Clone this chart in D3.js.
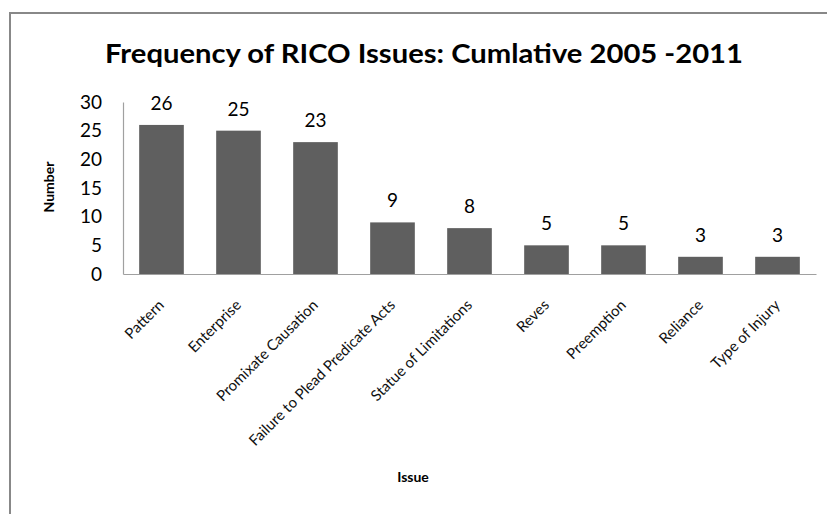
<!DOCTYPE html>
<html>
<head>
<meta charset="utf-8">
<script src="https://cdn.jsdelivr.net/npm/d3@7"></script>
<style>
  html, body { margin: 0; padding: 0; background: #ffffff; }
  svg { display: block; font-family: Lato, "Open Sans", sans-serif; }
</style>
</head>
<body>
<script>
// Issue categories and their cumulative counts, 2005–2011
const categories = [
  "Pattern",
  "Enterprise",
  "Promixate Causation",
  "Failure to Plead Predicate Acts",
  "Statue of Limitations",
  "Reves",
  "Preemption",
  "Reliance",
  "Type of Injury"
];
const counts = [26, 25, 23, 9, 8, 5, 5, 3, 3];
const yTicks = [0, 5, 10, 15, 20, 25, 30];

const W = 827, H = 514;
const plot = { left: 123, right: 816, top: 102, bottom: 274 };

const svg = d3.select("body").append("svg")
  .attr("width", W)
  .attr("height", H);

// chart frame (left and top edges)
svg.append("path")
  .attr("d", `M10,${H} L10,13 L${W},13`)
  .attr("fill", "none")
  .attr("stroke", "#888888")
  .attr("stroke-width", 2);

const x = d3.scaleBand()
  .domain(categories)
  .range([plot.left, plot.right])
  .paddingInner(0.42)
  .paddingOuter(0.21);

const y = d3.scaleLinear()
  .domain([0, 30])
  .range([plot.bottom, plot.top]);

// title
svg.append("text")
  .attr("x", 424)
  .attr("y", 63)
  .attr("text-anchor", "middle")
  .attr("font-size", 26)
  .attr("font-weight", "bold")
  .attr("fill", "#000")
  .attr("textLength", 638)
  .attr("lengthAdjust", "spacingAndGlyphs")
  .text("Frequency of RICO Issues: Cumlative 2005 -2011");

// y axis
const yAxis = svg.append("g")
  .attr("transform", `translate(${plot.left},0)`)
  .call(d3.axisLeft(y).tickValues(yTicks).tickSize(0).tickPadding(21));
yAxis.select(".domain").attr("stroke", "#a0a0a0").attr("stroke-width", 1.2);
yAxis.selectAll(".tick text")
  .attr("font-family", "Lato, 'Open Sans', sans-serif")
  .attr("font-size", 19)
  .attr("fill", "#000");

// bars
svg.append("g").selectAll("rect")
  .data(categories)
  .join("rect")
  .attr("x", d => x(d))
  .attr("y", (d, i) => y(counts[i]))
  .attr("width", x.bandwidth())
  .attr("height", (d, i) => y(0) - y(counts[i]))
  .attr("fill", "#5f5f5f");

// x axis baseline with rotated category labels
const xAxis = svg.append("g")
  .attr("transform", `translate(0,${plot.bottom})`)
  .call(d3.axisBottom(x).tickSize(0).tickPadding(0));
xAxis.select(".domain").attr("stroke", "#a0a0a0").attr("stroke-width", 1.2);
xAxis.selectAll(".tick text")
  .attr("font-family", "Lato, 'Open Sans', sans-serif")
  .attr("font-size", 15)
  .attr("fill", "#111")
  .attr("text-anchor", "end")
  .attr("dy", 0)
  .attr("y", 0)
  .attr("transform", "translate(3.5,32) rotate(-45)");

// value labels above bars
svg.append("g").selectAll("text")
  .data(categories)
  .join("text")
  .attr("x", d => x(d) + x.bandwidth() / 2)
  .attr("y", (d, i) => y(counts[i]) - 15)
  .attr("text-anchor", "middle")
  .attr("font-size", 19)
  .attr("fill", "#000")
  .text((d, i) => counts[i]);

// axis titles
svg.append("text")
  .attr("transform", "translate(54,187) rotate(-90)")
  .attr("text-anchor", "middle")
  .attr("font-size", 14)
  .attr("font-weight", "bold")
  .attr("fill", "#000")
  .text("Number");

svg.append("text")
  .attr("x", 413)
  .attr("y", 482)
  .attr("text-anchor", "middle")
  .attr("font-size", 14)
  .attr("font-weight", "bold")
  .attr("fill", "#000")
  .text("Issue");
</script>
</body>
</html>
